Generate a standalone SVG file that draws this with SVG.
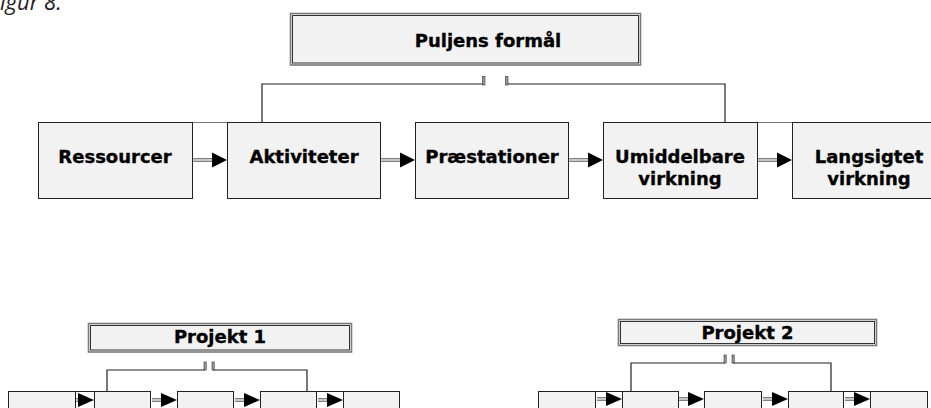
<svg xmlns="http://www.w3.org/2000/svg" xmlns:xlink="http://www.w3.org/1999/xlink" width="931" height="408" viewBox="0 0 931 408">
<style>
.box{fill:#f2f2f2;stroke:#222;stroke-width:1}
.outer{fill:#f2f2f2;stroke:#7a7a7a;stroke-width:1.6}
.inner{fill:none;stroke:#333;stroke-width:1}
.ln{stroke:#222;stroke-width:1.2;fill:none}
.gl{stroke:#777;stroke-width:1;fill:none}
.stub{fill:#9a9a9a;stroke:#333;stroke-width:0.6}
.sh{stroke:#333;stroke-width:0.9}
.t{font-family:"DejaVu Sans",Verdana,sans-serif;font-weight:bold;font-size:18px;fill:#000;stroke:#000;stroke-width:0.35;text-anchor:middle}
.cap{font-family:"Open Sans","Liberation Sans",sans-serif;font-style:italic;font-size:22px;fill:#222}
</style>
<defs>
<g id="arrT">
<line class="sh" x1="-35" y1="-1.2" x2="-14" y2="-1.2"/>
<line class="sh" x1="-35" y1="1.2" x2="-14" y2="1.2"/>
<polygon points="-15,-7.5 0,0 -15,7.5" fill="#000"/>
</g>
<g id="arrB">
<line class="sh" x1="-25" y1="-1.2" x2="-15" y2="-1.2"/>
<line class="sh" x1="-25" y1="1.2" x2="-15" y2="1.2"/>
<polygon points="-16,-7 0,0 -16,7" fill="#000"/>
</g>
</defs>
<rect width="931" height="408" fill="#fff"/>
<text class="cap" x="0" y="10">igur 8.</text>

<g id="connectors">
<!-- top -->
<path class="ln" d="M262,122 V84 H484 M506,84 H725 V122"/>
<rect class="stub" x="482.5" y="76.5" width="2.5" height="8.5"/>
<rect class="stub" x="505.5" y="76.5" width="2.5" height="8.5"/>
<path class="gl" d="M192,122.5 H227 M757,122.5 H792"/>
<use xlink:href="#arrT" x="227" y="160"/>
<use xlink:href="#arrT" x="415" y="160"/>
<use xlink:href="#arrT" x="603" y="160"/>
<use xlink:href="#arrT" x="792" y="160"/>
<!-- project 1 -->
<path class="ln" d="M94,391.5 H107 V370 H205 M213,370 H307 V391.5 H316"/>
<rect class="stub" x="204" y="362" width="2.2" height="8"/>
<rect class="stub" x="212" y="362" width="2.2" height="8"/>
<path class="ln" d="M75,391.5 H94 M316,391.5 H343"/>
<use xlink:href="#arrB" x="94" y="400"/>
<use xlink:href="#arrB" x="177" y="400"/>
<use xlink:href="#arrB" x="260" y="400"/>
<use xlink:href="#arrB" x="343" y="400"/>
<!-- project 2 -->
<path class="ln" d="M622,391.5 H631 V363 H725 M733,363 H831 V391.5 H843"/>
<rect class="stub" x="724" y="355" width="2.2" height="8"/>
<rect class="stub" x="732" y="355" width="2.2" height="8"/>
<path class="ln" d="M595,391.5 H622 M843,391.5 H870"/>
<use xlink:href="#arrB" x="622" y="399"/>
<use xlink:href="#arrB" x="704" y="399"/>
<use xlink:href="#arrB" x="788" y="399"/>
<use xlink:href="#arrB" x="870" y="399"/>
</g>

<g id="puljens-formaal">
<rect class="outer" x="290.5" y="13.5" width="350" height="51.5"/>
<rect class="inner" x="292.5" y="15.5" width="346" height="47.5"/>
<text class="t" x="488" y="47">Puljens formål</text>
</g>

<g id="ressourcer">
<rect class="box" x="38.5" y="122.5" width="154" height="76"/>
<text class="t" x="115" y="163">Ressourcer</text>
</g>
<g id="aktiviteter">
<rect class="box" x="227.5" y="122.5" width="153" height="76"/>
<text class="t" x="304" y="163">Aktiviteter</text>
</g>
<g id="praestationer">
<rect class="box" x="415.5" y="122.5" width="153" height="76"/>
<text class="t" x="492" y="163">Præstationer</text>
</g>
<g id="umiddelbare">
<rect class="box" x="603.5" y="122.5" width="154" height="76"/>
<text class="t" x="680" y="163">Umiddelbare</text>
<text class="t" x="680" y="185">virkning</text>
</g>
<g id="langsigtet">
<rect class="box" x="792.5" y="122.5" width="154" height="76"/>
<text class="t" x="869" y="163">Langsigtet</text>
<text class="t" x="869" y="185">virkning</text>
</g>

<g id="projekt1">
<rect class="outer" x="88.5" y="323.5" width="263" height="28.5"/>
<rect class="inner" x="90.5" y="325.5" width="259" height="24.5"/>
<text class="t" x="220" y="343">Projekt 1</text>
</g>
<g id="p1-box1"><rect class="box" x="8.5" y="391.5" width="67" height="30"/></g>
<g id="p1-box2"><rect class="box" x="94.5" y="391.5" width="56" height="30"/></g>
<g id="p1-box3"><rect class="box" x="177.5" y="391.5" width="56" height="30"/></g>
<g id="p1-box4"><rect class="box" x="260.5" y="391.5" width="56" height="30"/></g>
<g id="p1-box5"><rect class="box" x="343.5" y="391.5" width="56" height="30"/></g>

<g id="projekt2">
<rect class="outer" x="618.5" y="319.5" width="258" height="26"/>
<rect class="inner" x="620.5" y="321.5" width="254" height="22"/>
<text class="t" x="747.5" y="339">Projekt 2</text>
</g>
<g id="p2-box1"><rect class="box" x="538.5" y="391.5" width="57" height="30"/></g>
<g id="p2-box2"><rect class="box" x="622.5" y="391.5" width="56" height="30"/></g>
<g id="p2-box3"><rect class="box" x="704.5" y="391.5" width="57" height="30"/></g>
<g id="p2-box4"><rect class="box" x="788.5" y="391.5" width="55" height="30"/></g>
<g id="p2-box5"><rect class="box" x="870.5" y="391.5" width="57" height="30"/></g>
</svg>
